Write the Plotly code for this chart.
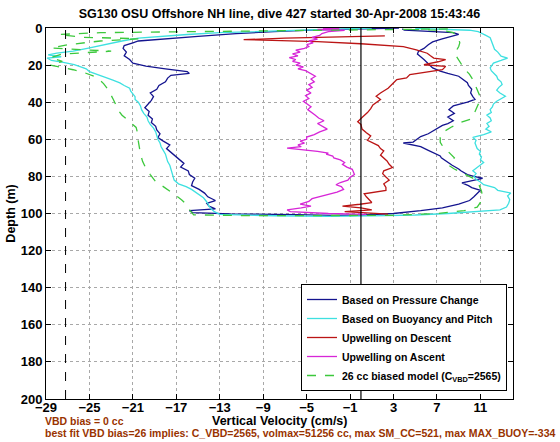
import plotly.graph_objects as go

# ---------------- data ----------------
x_ticks = [-29, -25, -21, -17, -13, -9, -5, -1, 3, 7, 11]
y_ticks = [0, 20, 40, 60, 80, 100, 120, 140, 160, 180, 200]

vbd_zero_line = 0.0
biased_limit_line = -27.2

# Based on Pressure Change (descent then ascent)
press_depth = [0.0, 0.5, 1.0, 2.0, 3.0, 4.5, 6.0, 7.0, 8.0, 9.5, 11, 13, 15, 17, 19, 20.5, 22, 23.5, 24.5,
               25.5, 27, 29, 31, 33, 35, 37, 39, 41, 43, 45, 47, 49, 51, 53, 55, 57, 59, 61, 63, 65, 67, 69,
               71, 73, 75, 77, 79, 81, 83, 85, 87, 89, 91, 93, 94.5, 96, 97.5, 98.5, 99.5, 100.2, 100.6, 101,
               100.8, 100, 98.5, 97, 95, 93, 91, 89, 87.5, 86, 85, 83.5, 82, 81, 80, 79, 77, 76, 74, 72, 70,
               69, 67.5, 66, 64, 63, 62, 61.5, 60, 58.5, 57, 55.5, 54, 52.5, 51.5, 50, 48, 46, 44, 42, 40,
               38.5, 37, 35, 33, 31, 29.5, 28, 26, 24.5, 23.3, 21.5, 19, 17, 15.5, 14, 12.5, 11, 9, 7.5, 6,
               4.6, 3.5, 2.5, 1.8, 1.2, 0.5]
press_vel = [3.5, 0.0, -4.0, -8.0, -11.5, -15.0, -18.5, -20.5, -21.0, -21.8, -21.9, -21.6, -21.8, -21.3, -21.0,
             -19.8, -18.0, -16.0, -15.8, -17.5, -17.8, -18.0, -18.6, -18.8, -19.4, -19.1, -19.3, -19.6, -19.9,
             -19.5, -19.6, -19.2, -19.3, -18.9, -18.8, -18.5, -18.7, -18.2, -17.6, -17.9, -17.5, -17.2, -16.8,
             -16.3, -16.6, -15.9, -15.8, -15.3, -15.5, -15.6, -14.9, -14.4, -14.1, -13.4, -14.2, -14.0, -13.4,
             -15.8, -15.5, -12.0, -6.0, -2.5, 0.0, 3.0, 5.5, 7.5, 9.0, 10.0, 10.4, 10.8, 11.0, 10.2, 9.9, 9.3,
             10.5, 11.2, 10.4, 9.8, 9.2, 9.0, 8.4, 7.9, 7.4, 7.3, 6.7, 6.2, 5.5, 4.6, 3.9, 4.8, 5.2, 5.5, 6.2,
             6.6, 7.0, 7.5, 8.0, 8.5, 8.0, 8.6, 8.1, 8.5, 9.8, 10.5, 10.3, 10.1, 10.2, 9.9, 9.8, 9.5, 9.0, 8.0,
             7.3, 6.6, 6.2, 5.8, 5.5, 5.2, 5.3, 5.8, 6.2, 6.6, 7.4, 8.2, 9.0, 8.5, 6.5, 4.0, 3.8]

# Based on Buoyancy and Pitch
buoy_depth = [0.0, 0.8, 1.5, 2.5, 3.5, 4.5, 5.5, 7, 9, 11, 12.5, 13.5, 14.5, 15.5, 16.2, 17.5, 18.5, 19.8,
              21, 22, 23.5, 25, 26.5, 28, 29.6, 31, 32.5, 34, 35.5, 37, 38.5, 40, 42, 44, 46, 48, 50, 52, 54,
              56, 58, 60, 62, 64, 66, 68, 70, 72, 74, 76, 78, 80, 82, 84, 85.5, 87, 88.5, 90, 91.5, 93, 94.5,
              96, 97.5, 99, 100.5, 101.2, 101.5, 101.3, 100.8, 100, 99, 98, 96.5, 94.5, 92.5, 90.5, 89, 87.5,
              86, 84.5, 83, 81.5, 80, 78.5, 77, 75.5, 74, 72.5, 71, 69.5, 68, 66.5, 65, 63.5, 62, 60.5, 59,
              57.5, 56, 54.5, 53, 51.5, 50, 48.5, 47, 45.5, 44, 42.5, 41, 39.5, 38, 36.8, 35, 33.5, 32, 30.5,
              29, 27.5, 26, 24.5, 23, 21.5, 20, 18.9, 17.5, 16.2, 15.2, 14.4, 13, 11.5, 10, 8.5, 7, 5.2, 4, 3,
              2, 1.2, 0.6, 0.2]
buoy_vel = [1.0, -4.0, -9.0, -13.0, -16.0, -18.5, -20.5, -22.0, -23.5, -25.2, -26.5, -28.0, -28.8, -27.6,
            -28.9, -28.5, -27.4, -26.4, -25.8, -25.3, -25.0, -24.2, -23.6, -22.9, -22.2, -21.8, -21.3, -21.2,
            -21.0, -20.8, -20.8, -20.5, -20.3, -20.2, -20.0, -19.7, -19.6, -19.4, -19.1, -18.9, -18.8, -18.7,
            -18.5, -18.4, -18.2, -18.0, -17.9, -17.8, -17.6, -17.5, -17.4, -17.3, -17.2, -16.8, -16.1, -15.6,
            -15.2, -14.8, -14.5, -14.3, -14.1, -14.0, -13.8, -13.5, -13.0, -8.0, -3.0, 1.0, 5.0, 8.0, 11.0,
            12.8, 13.4, 13.6, 13.7, 13.5, 13.8, 12.6, 12.3, 11.3, 11.0, 10.6, 10.4, 10.6, 10.3, 10.6, 11.0,
            11.3, 11.0, 11.1, 10.9, 11.0, 10.7, 10.6, 10.5, 10.6, 10.3, 11.3, 12.0, 11.5, 11.8, 11.6, 12.0,
            11.9, 11.6, 12.0, 11.9, 12.1, 12.2, 12.5, 13.0, 13.3, 12.8, 12.5, 12.7, 13.0, 12.9, 12.6, 12.5,
            12.2, 12.0, 11.9, 12.1, 12.2, 12.9, 13.5, 12.9, 12.8, 12.6, 12.3, 12.2, 12.1, 12.0, 11.9, 11.5,
            11.2, 10.8, 10.0, 7.5, 5.0]

# Upwelling on Descent
updesc_depth = [4.2, 4.8, 5.5, 6.3, 6.8, 7.3, 8.5, 10, 11.8, 13.6, 15, 16.2, 17.1, 18.2, 19.8, 20.7, 22.5,
                23.5, 25.1, 26.9, 27.8, 29, 30.5, 32.5, 35, 36.8, 38.5, 40, 41.5, 43.5, 45.6, 48.3, 50.5, 52,
                54.5, 56.5, 58.2, 60.5, 62, 63.4, 65, 66.3, 68.5, 70, 71.7, 73.5, 75.2, 77, 78.5, 80.3, 82, 84,
                86, 87.6, 88.5, 89.4, 91, 92.5, 94.1, 95, 96, 97, 98, 99, 99.8, 100.3]
updesc_vel = [2.2, -3.0, -7.0, -10.8, -8.0, -4.0, 0.0, 3.9, 5.1, 6.1, 6.4, 6.7, 7.8, 7.1, 5.8, 7.8, 7.5, 6.2,
              4.5, 4.2, 3.3, 3.1, 2.8, 2.5, 1.8, 1.4, 1.8, 1.5, 1.1, 0.9, 0.6, 0.1, -0.3, 0.0, 0.1, 0.5, 0.9,
              0.6, 1.2, 1.6, 1.8, 2.1, 1.8, 2.1, 2.4, 2.6, 2.9, 2.1, 2.0, 2.3, 2.6, 2.1, 2.3, 2.3, 1.2, 0.3,
              0.5, 0.7, 1.0, -0.1, -1.7, 0.0, 1.0, -1.5, 0.5, 2.5]

# Upwelling on Ascent
upasc_depth = [100.5, 100, 99, 98.1, 97, 96, 95, 93.5, 92, 90.5, 89.6, 88.5, 87, 85.5, 84.5, 83.3, 82, 80.5,
               79, 77.5, 76.2, 75, 73.5, 72.5, 71.1, 70, 69, 68, 67.4, 66.5, 66, 65.5, 64.8, 64, 63, 62, 61,
               60, 58.8, 57.5, 56, 54.5, 53, 51.5, 50, 48.5, 47, 45.5, 44, 42.5, 41, 39.5, 38, 36.5, 35, 33.5,
               32, 30.5, 29, 27.5, 26, 24.5, 23, 22, 21, 20, 19, 18, 17, 16, 15, 14, 13, 12, 11, 10, 9, 8, 7,
               6, 5, 4, 3, 2, 1.2, 0.8, 0.4, 0.2]
upasc_vel = [0.5, -3.0, -6.5, -6.8, -5.5, -4.6, -5.6, -4.8, -4.5, -3.6, -3.1, -2.2, -1.6, -1.8, -2.3, -1.9,
             -1.2, -1.0, -0.6, -0.7, -0.8, -1.3, -1.7, -1.5, -1.9, -2.5, -2.6, -3.2, -3.0, -4.0, -5.0, -6.2,
             -6.8, -5.5, -5.8, -5.2, -5.6, -5.0, -5.0, -4.3, -3.8, -3.1, -3.6, -4.0, -3.4, -3.9, -4.2, -4.5,
             -4.9, -4.6, -5.0, -5.3, -4.8, -5.1, -4.6, -5.0, -4.5, -4.8, -4.3, -4.6, -4.2, -4.7, -5.1, -5.8,
             -5.3, -6.0, -5.6, -6.3, -6.0, -6.6, -5.8, -6.3, -5.6, -6.0, -5.2, -4.8, -5.0, -4.4, -4.8, -4.0,
             -4.5, -3.8, -3.6, -3.0, -1.5, -4.0, -2.0, -3.5]

# 26 cc biased model
model_depth = [0.5, 1.2, 1.8, 2.5, 3.5, 5.0, 5.8, 7, 9, 10.8, 12.5, 14, 16, 18, 20, 21.5, 22.5, 24, 26, 27.8,
               30, 33, 36, 38.5, 41, 44, 47, 49, 51.5, 53.6, 56, 58, 61, 65, 68, 72, 75.7, 79, 82.8, 85.5,
               88.2, 90.5, 92.7, 95, 97.2, 99, 100.7, 101.2, 101.3, 101, 100, 98.5, 96.6, 94, 91, 88, 85, 83,
               81.2, 79.5, 77.7, 76, 74.1, 72, 70, 67.5, 65.2, 63.5, 61.6, 59, 56.3, 53.5, 50.9, 49.2, 46.5,
               43.9, 41, 38.5, 36, 33.2, 30.5, 27.8, 25, 22.5, 20, 17.1, 15, 13.6, 12, 10, 8, 6, 4, 2.5, 1.2,
               0.6]
model_vel = [8.0, -5.0, -15.0, -24.0, -27.8, -25.5, -20.5, -24.0, -27.0, -28.5, -23.0, -27.5, -28.6, -27.5,
             -28.6, -27.2, -26.5, -25.5, -24.6, -24.1, -23.7, -23.3, -23.0, -22.8, -22.6, -22.4, -22.0, -21.6,
             -21.1, -20.7, -20.6, -20.6, -20.5, -20.4, -20.3, -20.1, -19.8, -19.4, -18.9, -18.2, -17.5, -17.0,
             -16.5, -16.1, -15.9, -15.6, -15.4, -10.0, -3.0, 3.0, 7.0, 9.5, 10.7, 11.0, 11.2, 11.1, 10.9,
             10.7, 10.4, 9.8, 9.2, 8.6, 8.1, 8.3, 8.6, 8.2, 7.8, 7.5, 7.3, 7.3, 7.5, 8.3, 9.2, 10.1, 10.4,
             10.6, 10.8, 11.0, 10.9, 10.7, 10.5, 10.3, 10.0, 9.6, 9.3, 9.0, 8.8, 8.6, 8.8, 9.0, 9.1, 9.0, 8.8,
             8.5, 7.5, 4.0]

title_text = "SG130 OSU Offshore NH line, dive 427 started 30-Apr-2008 15:43:46"
x_title = "Vertical Velocity (cm/s)"
y_title = "Depth (m)"
note_line1 = "VBD bias = 0 cc"
note_line2 = ("best fit VBD bias=26 implies: C_VBD=2565, volmax=51256 cc, "
              "max SM_CC=521, max MAX_BUOY=-334")

# ---------------- figure ----------------
FONT = "Liberation Sans, Arial, Helvetica, sans-serif"
W, H = 560, 442
ML, MR, MT, MB = 46, 47, 28, 43
PW, PH = W - ML - MR, H - MT - MB

fig = go.Figure()

series = [
    ("Based on Pressure Change", press_vel, press_depth, "#14148f", "solid"),
    ("Based on Buoyancy and Pitch", buoy_vel, buoy_depth, "#3ee0e0", "solid"),
    ("Upwelling on Descent", updesc_vel, updesc_depth, "#bb1515", "solid"),
    ("Upwelling on Ascent", upasc_vel, upasc_depth, "#d726d7", "solid"),
    ("26 cc biased model (C<sub>VBD</sub>=2565)", model_vel, model_depth, "#3cc83c", "dash"),
]
for name, xv, yv, col, dash in series:
    fig.add_trace(go.Scatter(x=xv, y=yv, mode="lines", name=name,
                             line=dict(color=col, width=1.3, dash=dash)))

fig.add_shape(type="line", xref="x", yref="paper", x0=vbd_zero_line, x1=vbd_zero_line,
              y0=0, y1=1, line=dict(color="black", width=1.2))
fig.add_shape(type="line", xref="x", yref="paper", x0=biased_limit_line, x1=biased_limit_line,
              y0=0, y1=1, line=dict(color="black", width=1, dash="dash"))

axis_common = dict(
    showline=True, linecolor="black", linewidth=1, mirror="ticks",
    ticks="inside", ticklen=5, tickcolor="black",
    showgrid=True, gridcolor="#a8a8a8", griddash="dot", gridwidth=1,
    zeroline=False, automargin=False,
    tickfont=dict(family=FONT, size=13, color="black", weight="bold"),
)

fig.update_xaxes(range=[-29, 14], tickvals=x_ticks,
                 ticktext=[str(v).replace("-", "\u2212") for v in x_ticks],
                 ticklabelstandoff=-4,
                 **axis_common)
fig.update_yaxes(range=[200, 0], tickvals=y_ticks,
                 title=dict(text=y_title, standoff=2,
                            font=dict(family=FONT, size=12.5, color="black", weight="bold")),
                 **axis_common)

fig.update_layout(
    width=W, height=H,
    margin=dict(l=ML, r=MR, t=MT, b=MB, autoexpand=False),
    paper_bgcolor="white", plot_bgcolor="white",
    title=dict(text=title_text, x=0.5, xref="paper", y=1 - 14 / H, yanchor="middle",
               font=dict(family=FONT, size=12.5, color="black", weight="bold")),
    showlegend=True,
    legend=dict(x=(507 - ML) / PW, xanchor="right", y=(H - MB - 391) / PH, yanchor="bottom",
                bgcolor="white", bordercolor="black", borderwidth=1,
                font=dict(family=FONT, size=10.5, color="black", weight="bold"),
                tracegroupgap=0, itemwidth=30),
    annotations=[
        dict(text=x_title, xref="paper", yref="paper", x=0.5, y=(H - MB - 421) / PH,
             xanchor="center", yanchor="middle", showarrow=False,
             font=dict(family=FONT, size=12.5, color="black", weight="bold")),
        dict(text=note_line1, xref="paper", yref="paper", x=(43 - ML) / PW, y=(H - MB - 421) / PH,
             xanchor="left", yanchor="middle", showarrow=False,
             font=dict(family=FONT, size=10.5, color="#993300", weight="bold")),
        dict(text=note_line2, xref="paper", yref="paper", x=(43 - ML) / PW, y=(H - MB - 433) / PH,
             xanchor="left", yanchor="middle", showarrow=False,
             font=dict(family=FONT, size=10.5, color="#993300", weight="bold")),
    ],
)

# remove the default 8px page margin so the figure sits at the window's top-left corner
fig.write_html("out.html", config={"displayModeBar": False},
               post_script="document.body.style.margin='0px';")
